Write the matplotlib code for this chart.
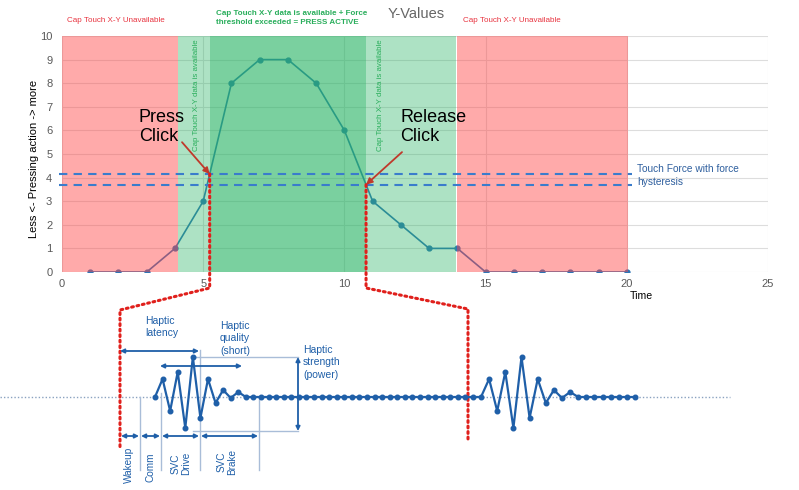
import numpy as np
import matplotlib
matplotlib.use("Agg")
import matplotlib.pyplot as plt
from matplotlib import font_manager

# ---- data (top chart) ----
time = [1, 2, 3, 4, 5, 6, 7, 8, 9, 10, 11, 12, 13, 14, 15, 16, 17, 18, 19, 20]
force = [0, 0, 0, 1, 3, 8, 9, 9, 8, 6, 3, 2, 1, 1, 0, 0, 0, 0, 0, 0]
press_level = 4.15
release_level = 3.7
unavail_spans = [(0.0, 4.1), (14.0, 20.05)]
avail_span = (4.1, 13.95)
x_ticks = [0, 5, 10, 15, 20, 25]
y_ticks = [0, 1, 2, 3, 4, 5, 6, 7, 8, 9, 10]

# ---- data (haptic waveform) ----
burst = [0, 18, -14, 25, -31, 40, -21, 18, -6, 7, -1, 5, 0]
idle_gap = 30
idle_tail = 7
phase_labels = ["Wakeup", "Comm", "SVC\nDrive", "SVC\nBrake"]

# fonts
names = {f.name for f in font_manager.fontManager.ttflist}
narrow = "Liberation Sans Narrow" if "Liberation Sans Narrow" in names else "Liberation Sans"
plt.rcParams["font.family"] = [narrow, "DejaVu Sans"]

RED_TXT = "#e8333f"
GREEN_TXT = "#2aae5c"
BLUE = "#1f5fa8"
LIGHT = "#a9bdd8"

fig = plt.figure(figsize=(7.99, 4.90), dpi=100)
W, H = 799, 490
ax = fig.add_axes([62 / W, 218 / H, 706 / W, 236 / H])

ax.set_xlim(0, 25)
ax.set_ylim(0, 10)
ax.set_xticks(x_ticks)
ax.set_yticks(y_ticks)
ax.tick_params(length=0, labelsize=8, colors="#595959")
ax.tick_params(axis="x", pad=5)
ax.tick_params(axis="y", pad=7)
for s in ax.spines.values():
    s.set_visible(False)
ax.grid(True, color="#dddddd", lw=0.8)
ax.set_axisbelow(True)

ax.plot(time, force, color="#2e75b6", lw=1.2, marker="o", ms=3.5, zorder=2)

# where the force crosses the thresholds
x_press = np.interp(press_level, force[3:6], time[3:6])
x_release = np.interp(release_level, force[8:12][::-1], time[8:12][::-1])

for a, b in unavail_spans:
    ax.axvspan(a, b, color="#ff4444", alpha=0.45, lw=0, zorder=3)
ax.axvspan(avail_span[0], avail_span[1], color="#28b464", alpha=0.38, lw=0, zorder=3)
ax.axvspan(x_press, x_release, color="#28b464", alpha=0.38, lw=0, zorder=3)

for lvl in [press_level, release_level]:
    ax.plot([-0.1, 20.2], [lvl, lvl], color="#3a7ccc", lw=1.5, ls=(0, (4, 3)),
            zorder=4, clip_on=False)

ax.text(0.18, 10.64, "Cap Touch X-Y Unavailable", color=RED_TXT, fontsize=5.8, va="center")
ax.text(14.2, 10.64, "Cap Touch X-Y Unavailable", color=RED_TXT, fontsize=5.8, va="center")
ax.text(5.45, 10.76, "Cap Touch X-Y data is available + Force\nthreshold exceeded = PRESS ACTIVE",
        color=GREEN_TXT, fontsize=5.8, fontweight="bold", va="center", linespacing=1.45)
ax.text(12.55, 10.92, "Y-Values", ha="center", va="center", fontsize=10.5, color="#666666")
for xv in [4.78, 11.28]:
    ax.text(xv, 9.85, "Cap Touch X-Y data is available", rotation=90, ha="center", va="top",
            fontsize=5.7, color=GREEN_TXT, zorder=5)

ax.text(2.72, 6.9, "Press\nClick", fontsize=13, va="top", ha="left", linespacing=1.15, zorder=5)
ax.text(11.98, 6.9, "Release\nClick", fontsize=13, va="top", ha="left", linespacing=1.15, zorder=5)
arrow = dict(arrowstyle="-|>", color="#c0392b", lw=1.3, mutation_scale=9, shrinkA=0, shrinkB=0)
ax.annotate("", xy=(x_press, press_level), xytext=(4.25, 5.5), arrowprops=arrow, zorder=6)
ax.annotate("", xy=(x_release, release_level), xytext=(12.04, 5.08), arrowprops=arrow, zorder=6)

ax.text(20.36, 4.09, "Touch Force with force\nhysteresis", color="#2e5f9e", fontsize=7.3,
        va="center", linespacing=1.3)
ax.text(20.5, -1.0, "Time", ha="center", va="center", fontsize=7.6)
ax.set_ylabel("Less <- Pressing action -> more", fontsize=8)
ax.yaxis.set_label_coords(-0.033, 0.48)

# ---- overlay in pixel coordinates for the zoomed haptic diagram ----
ov = fig.add_axes([0, 0, 1, 1], zorder=5)
ov.set_xlim(0, W)
ov.set_ylim(H, 0)
ov.axis("off")
ov.patch.set_alpha(0)


def to_px(x, y):
    dx, dy = ax.transData.transform((x, y))
    return dx, H - dy


base_y = 397
# red zoom lines
for (xd, yd), (zx, ztop, zbot) in [((x_press, press_level), (120, 310, 447)),
                                   ((x_release, release_level), (468, 309, 442))]:
    px, py = to_px(xd, yd)
    ov.plot([px, px, zx, zx], [py, 288, ztop, zbot], color="#e0201c", lw=2.2,
            ls=(0, (0.6, 1.2)), dash_capstyle="round", zorder=2)

ov.plot([0, 730], [base_y, base_y], color="#8aa2c0", lw=1, ls=(0, (1, 1.5)), zorder=1)

sig1 = burst + [0] * idle_gap
sig2 = burst + [0] * idle_tail
xs = np.concatenate([155 + 7.57 * np.arange(len(sig1)), 481 + 8.1 * np.arange(len(sig2))])
ys = base_y - np.array(sig1 + sig2)
ov.plot(xs, ys, color=BLUE, lw=1.6, marker="o", ms=3.3, zorder=3)


def darrow(x1, y1, x2, y2):
    ov.annotate("", xy=(x2, y2), xytext=(x1, y1),
                arrowprops=dict(arrowstyle="<|-|>", color=BLUE, lw=1.3, mutation_scale=6,
                                shrinkA=0, shrinkB=0))


top = base_y - max(burst)
bot = base_y - min(burst)
# guide lines
ov.plot([193, 298], [top, top], color=LIGHT, lw=1)
ov.plot([193, 298], [bot + 3, bot + 3], color=LIGHT, lw=1)
edges = [120, 140, 161, 200, 259]
starts = [None, 397, 393, 350, 397]
for e, s in zip(edges[1:], starts[1:]):
    ov.plot([e, e], [s, 470], color=LIGHT, lw=1)

darrow(120, 351, 199, 351)
darrow(160, 366, 242, 366)
darrow(298, top, 298, bot + 3)
for i in range(4):
    darrow(edges[i] + 1, 436, edges[i + 1] - 1, 436)

tk = dict(color=BLUE, fontsize=7.5, va="top", ha="left", linespacing=1.3)
ov.text(145, 316, "Haptic\nlatency", **tk)
ov.text(220, 321, "Haptic\nquality\n(short)", **tk)
ov.text(303, 345, "Haptic\nstrength\n(power)", **tk)
for lab, xc, yt in zip(phase_labels, [129, 150, 181, 227], [447, 452, 452, 449]):
    ov.text(xc, yt, lab, rotation=90, ha="center", va="top", color=BLUE, fontsize=7.2,
            linespacing=1.15)

fig.savefig("out.png", dpi=100)
